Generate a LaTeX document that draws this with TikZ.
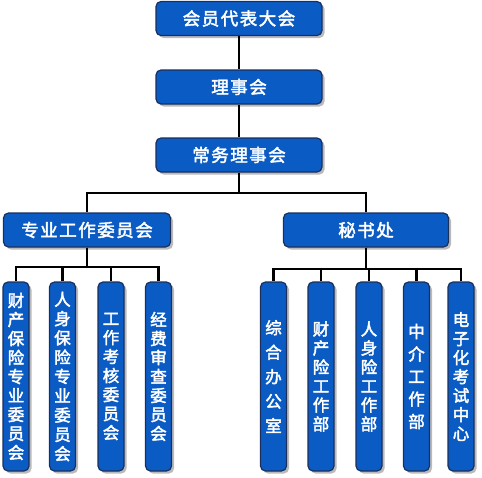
\documentclass[tikz,border=0pt]{standalone}
\usepackage{fontspec}
\newfontfamily\cjk{Noto Sans CJK SC}[FakeBold=2.5]
\usetikzlibrary{shadows}
\definecolor{boxblue}{HTML}{0B5BC5}
\definecolor{boxedge}{HTML}{1B2F5C}
\newcommand{\gp}{\hspace{1.5pt}}
\tikzset{
  orgbox/.style={draw=boxedge, line width=1.2pt, fill=boxblue, rounded corners=5pt,
    text=white, inner sep=0pt, font={\cjk\fontsize{17.5}{17.5}\selectfont},
    drop shadow={shadow xshift=2.5pt, shadow yshift=-2.5pt, fill=black!60, opacity=0.45}},
  hbox/.style={orgbox, minimum height=34pt},
  vbox/.style={orgbox, minimum width=26pt, minimum height=189pt, align=center},
  link/.style={draw=black, line width=2.2pt}
}
\begin{document}
\begin{tikzpicture}[x=1pt, y=-1pt]
\useasboundingbox (0,0) rectangle (482,477);
% top chain
\node[hbox, minimum width=166pt] (hy) at (239,18.5) {会\gp 员\gp 代\gp 表\gp 大\gp 会};
\node[hbox, minimum width=166pt] (ls) at (239,87) {理\gp 事\gp 会};
\node[hbox, minimum width=166pt] (cw) at (239,155) {常\gp 务\gp 理\gp 事\gp 会};
\node[hbox, minimum width=167pt] (zy) at (87,230) {专\gp 业\gp 工\gp 作\gp 委\gp 员\gp 会};
\node[hbox, minimum width=165pt] (ms) at (366,230) {秘\gp 书\gp 处};
% bus coordinates
\coordinate (busA) at (0,193);
\coordinate (busL) at (0,267);
\coordinate (busR) at (0,269);
% left children
\node[vbox, font={\cjk\fontsize{16.5}{19}\selectfont}] (l1) at (16,376.5) {财\\产\\保\\险\\专\\业\\委\\员\\会};
\node[vbox, font={\cjk\fontsize{16.5}{19.3}\selectfont}] (l2) at (62.5,376.5) {人\\身\\保\\险\\专\\业\\委\\员\\会};
\node[vbox, font={\cjk\fontsize{16.5}{19}\selectfont}] (l3) at (111,376.5) {工\\作\\考\\核\\委\\员\\会};
\node[vbox, font={\cjk\fontsize{16.5}{19}\selectfont}] (l4) at (158.5,376.5) {经\\费\\审\\查\\委\\员\\会};
% right children
\node[vbox, font={\cjk\fontsize{16.5}{24.5}\selectfont}] (r1) at (273.5,376.5) {综\\合\\办\\公\\室};
\node[vbox, font={\cjk\fontsize{16.5}{19}\selectfont}] (r2) at (321,376.5) {财\\产\\险\\工\\作\\部};
\node[vbox, font={\cjk\fontsize{16.5}{19}\selectfont}] (r3) at (369,376.5) {人\\身\\险\\工\\作\\部};
\node[vbox, font={\cjk\fontsize{16.5}{22.5}\selectfont}] (r4) at (416.5,376.5) {中\\介\\工\\作\\部};
\node[vbox, font={\cjk\fontsize{16.5}{19}\selectfont}] (r5) at (461,376.5) {电\\子\\化\\考\\试\\中\\心};
% connectors
\draw[link] (hy.south) -- (ls.north);
\draw[link] (ls.south) -- (cw.north);
\draw[link] (cw.south) -- (cw.south |- busA) -| (zy.north);
\draw[link] (cw.south) -- (cw.south |- busA) -| (ms.north);
\foreach \c in {l1,l2,l3,l4}{
  \draw[link] (zy.south) -- (zy.south |- busL) -| (\c.north);
}
\foreach \c in {r1,r2,r3,r4,r5}{
  \draw[link] (ms.south) -- (ms.south |- busR) -| (\c.north);
}
\end{tikzpicture}
\end{document}
